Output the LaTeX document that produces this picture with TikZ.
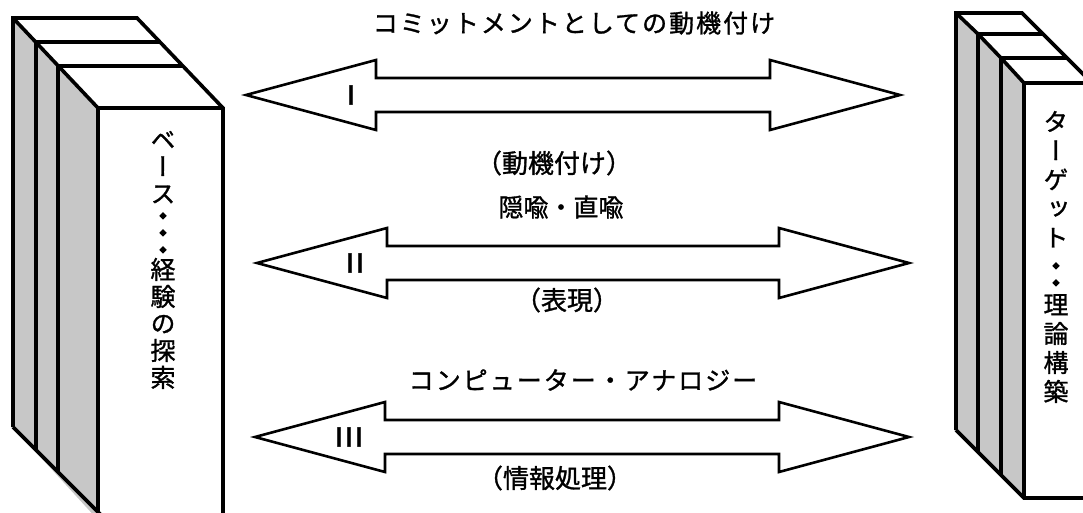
\documentclass[tikz,border=0pt]{standalone}
\usepackage{fontspec}
\newfontfamily\jp[FakeBold=1.2]{Noto Sans CJK JP}
\newfontfamily\jpv[RawFeature=+vert,FakeBold=1.2]{Noto Sans CJK JP}
\newfontfamily\jpdot[FakeBold=18]{Noto Sans CJK JP}
\newfontfamily\rom[FakeBold=1.5]{Liberation Sans}
\newcommand\vdot{{\jpdot\fontsize{16}{16}\selectfont ・}}
\begin{document}
\begin{tikzpicture}[x=1pt,y=-1pt,
  edge/.style={line width=3.6pt, line join=miter, line cap=butt},
  divider/.style={line width=4.6pt, line cap=butt},
  side/.style={fill=black!22},
  arrowline/.style={draw, line width=2.6pt, fill=white, line join=miter},
  lbl/.style={font=\jp\fontsize{25}{28}\selectfont, inner sep=0pt},
  lblk/.style={font=\jp\fontsize{25}{28}\selectfont\addfontfeature{LetterSpace=8}, inner sep=0pt},
  plbl/.style={font=\jp\fontsize{26}{28}\selectfont, inner sep=0pt},
  roman/.style={font=\rom\fontsize{28}{30}\selectfont\addfontfeature{LetterSpace=8}, inner sep=0pt},
  vtext/.style={font=\jpv\fontsize{25}{27}\selectfont, align=center, inner sep=0pt},
  vtextb/.style={font=\jpv\fontsize{25}{29}\selectfont, align=center, inner sep=0pt},
  pics/dblarrow/.style={code={
    \draw[arrowline] (0,0) -- (130,-35) -- (130,-17) -- (#1-130,-17) -- (#1-130,-35)
      -- (#1,0) -- (#1-130,35) -- (#1-130,17) -- (130,17) -- (130,35) -- cycle;
  }}
]
\useasboundingbox (0,0) rectangle (1083,513);
\clip (0,0) rectangle (1083,513);

% ---------- left book stack ----------
\fill[side] (13,18) -- (98,108) -- (98,520) -- (13,427) -- cycle;
\draw[edge] (13,427) -- (13,18) -- (137,18) -- (223,108) -- (223,520);
\draw[edge] (13,18) -- (98,108) -- (223,108);
\draw[edge] (98,108) -- (98,520);
\draw[edge] (36,42) -- (160,42);
\draw[edge] (36,42) -- (36,450);
\draw[edge] (58,66) -- (183,66);
\draw[edge] (58,66) -- (58,472);
\draw[edge] (13,427) -- (104,518);
\node[vtext] (basetext) at (163,260) {ベ\\ー\\ス\\[-8pt]\vdot\\[-10pt]\vdot\\[-10pt]\vdot\\[-4pt]経\\験\\の\\探\\索};

% ---------- right book stack ----------
\fill[side] (956,13) -- (978,34) -- (1001,58) -- (1024,83) -- (1024,498) -- (956,430) -- cycle;
\draw[edge] (956,430) -- (956,13) -- (1022,13) -- (1095,86);
\draw[edge] (956,13) -- (978,34) -- (1001,58) -- (1024,83) -- (1090,83);
\draw[divider] (978,34) -- (1042,34);
\draw[divider] (1001,58) -- (1066,58);
\draw[edge] (978,34) -- (978,452);
\draw[edge] (1001,58) -- (1001,475);
\draw[edge] (1024,83) -- (1024,498);
\draw[edge] (956,430) -- (1024,498) -- (1090,498);
\node[vtextb] (targettext) at (1056,257) {タ\\ー\\ゲ\\ッ\\ト\\[-4pt]\vdot\\[-12pt]\vdot\\[-4pt]理\\論\\構\\築};

% ---------- arrows ----------
\pic at (246,95) {dblarrow=654};
\pic at (257,263) {dblarrow=652};
\pic at (255,437) {dblarrow=654};

\node[roman] (r1) at (351,95) {I};
\node[roman] (r2) at (355,263) {II};
\node[roman] (r3) at (349,437) {III};

% ---------- labels ----------
\node[lblk] (t1) at (574,23) {コミットメントとしての動機付け};
\node[lbl] (t2) at (561,207) {隠喩・直喩};
\node[lblk] (t3) at (583,380) {コンピューター・アナロジー};
\node[plbl] (b1) at (554,163) {（動機付け）};
\node[plbl] (b2) at (567,300) {（表現）};
\node[plbl] (b3) at (555,478) {（情報処理）};
\end{tikzpicture}
\end{document}
